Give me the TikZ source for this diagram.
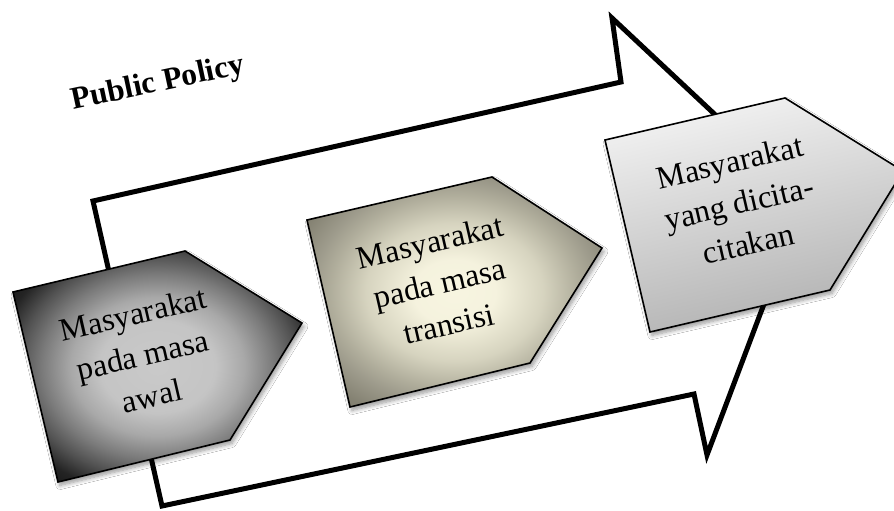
\documentclass[tikz,border=0pt]{standalone}
\usepackage{fontspec}
\setmainfont{Liberation Serif}
\usetikzlibrary{shadows.blur}

% radial shadings: half of the path's bounding box corresponds to 25bp
\pgfdeclareradialshading{pOneShade}{\pgfpointorigin}{%
  rgb(0bp)=(0.79,0.79,0.79);
  rgb(10bp)=(0.77,0.77,0.77);
  rgb(15bp)=(0.66,0.66,0.66);
  rgb(20bp)=(0.48,0.48,0.48);
  rgb(24bp)=(0.32,0.32,0.32);
  rgb(28bp)=(0.14,0.14,0.14);
  rgb(33bp)=(0.07,0.07,0.07);
  rgb(50bp)=(0.07,0.07,0.07)}
\pgfdeclareradialshading{pTwoShade}{\pgfpointorigin}{%
  rgb(0bp)=(0.97,0.96,0.88);
  rgb(7bp)=(0.96,0.95,0.87);
  rgb(15bp)=(0.84,0.83,0.75);
  rgb(21bp)=(0.69,0.68,0.61);
  rgb(24bp)=(0.62,0.61,0.55);
  rgb(29bp)=(0.52,0.51,0.45);
  rgb(35bp)=(0.48,0.47,0.42);
  rgb(50bp)=(0.48,0.47,0.42)}
\pgfdeclareverticalshading{pThreeShade}{100bp}{%
  rgb(0bp)=(0.68,0.68,0.68);
  rgb(25bp)=(0.69,0.69,0.69);
  rgb(75bp)=(0.95,0.95,0.95);
  rgb(100bp)=(0.96,0.96,0.96)}

\begin{document}
\begin{tikzpicture}[x=1pt,y=-1pt,
  arrowline/.style={draw=black, line width=5pt, line join=miter},
  pent/.style={draw=black, line width=1.6pt, line join=miter,
    blur shadow={shadow xshift=2pt, shadow yshift=-3.5pt,
      shadow blur radius=4pt, shadow blur steps=8, shadow opacity=40}},
  lbl/.style={font=\fontsize{32}{42}\selectfont, align=center,
    inner sep=0pt, rotate=13},
  titletext/.style={font=\fontsize{31.5}{36}\selectfont\bfseries,
    inner sep=0pt, rotate=12}]
\useasboundingbox (0,0) rectangle (894,511);
\clip (0,0) rectangle (894,511);
\fill[white] (0,0) rectangle (894,511);

% big arrow outline
\coordinate (A) at (93,201);
\coordinate (B) at (621,82);
\coordinate (C) at (612,18);
\coordinate (D) at (804,198);
\coordinate (E) at (707,455);
\coordinate (F) at (694,394);
\coordinate (G) at (162,506);
\draw[arrowline] (A) -- (B) -- (C) -- (D) -- (E) -- (F) -- (G) -- cycle;

% pentagons
\shade[pent, shading=pOneShade]
  (13,292) -- (185,251) -- (302,323) -- (230,440) -- (58,482) -- cycle;
\shade[pent, shading=pTwoShade]
  (307,220) -- (492,177) -- (602,248) -- (530,363) -- (350,407) -- cycle;
\shade[pent, shading=pThreeShade, shading angle=13]
  (605,140) -- (785,98) -- (903,171) -- (830,290) -- (650,332) -- cycle;

% texts
\node[titletext] (title) at (158,84) {Public Policy};
\node[lbl] (t1) at (142.5,355) {Masyarakat\\pada masa\\awal};
\node[lbl] (t2) at (439.5,283) {Masyarakat\\pada masa\\transisi};
\node[lbl] (t3) at (739,203) {Masyarakat\\yang dicita-\\citakan};
\end{tikzpicture}
\end{document}
